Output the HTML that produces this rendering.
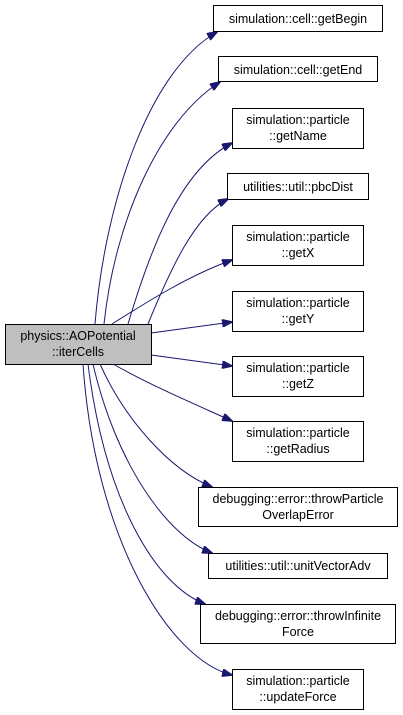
<!DOCTYPE html>
<html><head><meta charset="utf-8"><style>
body{margin:0;background:#fff;width:403px;height:715px;overflow:hidden}
svg{display:block}
text{font-family:"Liberation Sans",sans-serif;font-size:12.5px;fill:#000;text-anchor:middle}
rect{stroke:#000;stroke-width:1;fill:#fff}
path.e{fill:none;stroke:#191970;stroke-width:1}
</style></head><body>
<svg width="403" height="715" viewBox="0 0 403 715">
<defs><marker id="a" markerWidth="11" markerHeight="8" refX="10" refY="4" orient="auto" markerUnits="userSpaceOnUse"><path d="M0,0 L11,4 L0,8 Z" fill="#191970" stroke="#191970"/></marker></defs>
<path class="e" marker-end="url(#a)" d="M95,324 C105,200 150,70 217,32"/>
<path class="e" marker-end="url(#a)" d="M104,324 C115,220 160,120 220,82"/>
<path class="e" marker-end="url(#a)" d="M128,324 C150,250 180,170 232,143"/>
<path class="e" marker-end="url(#a)" d="M148,324 C170,270 195,215 228,199"/>
<path class="e" marker-end="url(#a)" d="M112,324 C150,300 190,275 232,260"/>
<path class="e" marker-end="url(#a)" d="M151,333 L232,322"/>
<path class="e" marker-end="url(#a)" d="M151,355 L232,366"/>
<path class="e" marker-end="url(#a)" d="M113,364 C150,385 190,402 232,421"/>
<path class="e" marker-end="url(#a)" d="M100,364 C125,420 170,470 212,487"/>
<path class="e" marker-end="url(#a)" d="M93,364 C115,460 165,535 212,553"/>
<path class="e" marker-end="url(#a)" d="M88,364 C105,500 155,585 205,604"/>
<path class="e" marker-end="url(#a)" d="M83,364 C95,540 170,660 232,675"/>
<rect x="5.5" y="324.5" width="146" height="40" style="fill:#bfbfbf"/>
<text x="78" y="340">physics::AOPotential</text><text x="78" y="356">::iterCells</text>
<rect x="213.5" y="5.5" width="169" height="26"/><text x="298" y="23">simulation::cell::getBegin</text>
<rect x="218.5" y="56.5" width="159" height="25"/><text x="298" y="74">simulation::cell::getEnd</text>
<rect x="232.5" y="108.5" width="131" height="40"/><text x="298" y="124">simulation::particle</text><text x="298" y="140">::getName</text>
<rect x="227.5" y="173.5" width="141" height="26"/><text x="298" y="191">utilities::util::pbcDist</text>
<rect x="232.5" y="225.5" width="131" height="40"/><text x="298" y="241">simulation::particle</text><text x="298" y="257">::getX</text>
<rect x="232.5" y="291.5" width="131" height="40"/><text x="298" y="307">simulation::particle</text><text x="298" y="323">::getY</text>
<rect x="232.5" y="356.5" width="131" height="40"/><text x="298" y="372">simulation::particle</text><text x="298" y="388">::getZ</text>
<rect x="232.5" y="421.5" width="131" height="40"/><text x="298" y="437">simulation::particle</text><text x="298" y="453">::getRadius</text>
<rect x="198.5" y="487.5" width="199" height="39"/><text x="298" y="503">debugging::error::throwParticle</text><text x="298" y="519">OverlapError</text>
<rect x="208.5" y="553.5" width="179" height="25"/><text x="298" y="570">utilities::util::unitVectorAdv</text>
<rect x="200.5" y="604.5" width="195" height="39"/><text x="298" y="620">debugging::error::throwInfinite</text><text x="298" y="636">Force</text>
<rect x="232.5" y="669.5" width="131" height="40"/><text x="298" y="685">simulation::particle</text><text x="298" y="701">::updateForce</text>
</svg>
</body></html>
